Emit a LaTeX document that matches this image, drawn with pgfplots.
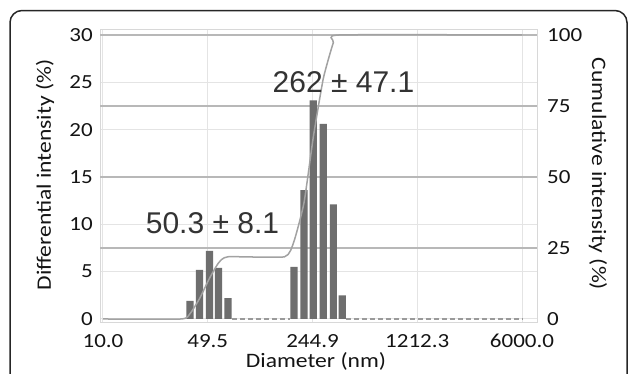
\documentclass[border=0pt]{standalone}
\usepackage{pgfplots}
\pgfplotsset{compat=1.18}
\usepackage{fontspec}
\setmainfont[FakeStretch=1.15]{Carlito}
\newfontfamily\annfont{Liberation Sans}
\definecolor{barc}{HTML}{6E6E6E}
\definecolor{cumc}{HTML}{A2A2A2}
\definecolor{dashc}{HTML}{9A9A9A}
\definecolor{gridl}{HTML}{E4E4E4}
\definecolor{gridd}{HTML}{B8B8B8}
\definecolor{boxc}{HTML}{D8D8D8}
\definecolor{txt}{HTML}{141414}
\definecolor{anc}{HTML}{333333}
\pgfdeclareverticalshading{topband}{100bp}{color(0bp)=(white); color(90bp)=(white); color(100bp)=(black!9)}
\newcommand{\lblfont}{\fontsize{20}{22}\selectfont}
\newcommand{\axfont}{\fontsize{20.5}{23}\selectfont}
\begin{document}
\begin{tikzpicture}[x=1pt,y=1pt]
\useasboundingbox (0,0) rectangle (629,-373);
\draw[line width=1.5pt, rounded corners=12pt, black!85] (10,-390) -- (10,-10.5) -- (627,-10.5) -- (627,-390);
\begin{axis}[
  at={(100pt,-322pt)}, anchor=south west,
  width=437pt, height=293pt, scale only axis,
  xmode=log, xmin=9.553, xmax=7545,
  ymin=-0.32, ymax=30.63,
  xtick={10,49.5,244.9,1212.3,6000},
  xticklabels={10.0,49.5,244.9,1212.3,6000.0},
  xminorticks=false,
  ytick={0,5,...,30},
  extra y ticks={7.5,15,22.5,30},
  extra y tick labels={},
  extra y tick style={grid=major, major grid style={gridd, line width=1.2pt}},
  xmajorgrids, ymajorgrids,
  major grid style={gridl, line width=1pt},
  major tick length=0pt,
  axis line style={boxc, line width=1pt},
  axis background/.style={shading=topband},
  tick label style={font=\lblfont, text=txt},
  yticklabel style={anchor=east, inner sep=0pt, xshift=-7pt},
  xticklabel style={anchor=north, inner sep=0pt, yshift=-12pt},
  /pgf/number format/assume math mode=true,
]
\addplot[ybar, bar width=7.2pt, fill=barc, draw=none, bar shift=0pt] coordinates {
  (37.8,1.9) (43.6,5.2) (50.8,7.2) (58.3,5.4) (67.4,2.2)
  (184.8,5.5) (215.3,13.6) (248.1,23.1) (289,20.6) (336.8,12.1) (386.4,2.5)};
\addplot[dashc, line width=1.2pt, dash pattern=on 5pt off 3pt] coordinates {(71.7,0) (174,0)};
\addplot[dashc, line width=1.2pt, dash pattern=on 5pt off 3pt] coordinates {(408,0) (6000,0)};
\end{axis}
\begin{axis}[
  at={(100pt,-322pt)}, anchor=south west,
  width=437pt, height=293pt, scale only axis,
  xmode=log, xmin=9.553, xmax=7545,
  ymin=-1.07, ymax=102.1,
  hide x axis,
  axis y line*=right,
  y axis line style={draw=none},
  ytick={0,25,50,75,100},
  major tick length=0pt,
  tick label style={font=\lblfont, text=txt},
  yticklabel style={anchor=west, inner sep=0pt, xshift=10pt},
  /pgf/number format/assume math mode=true,
]
\addplot[cumc, line width=1.5pt, smooth, tension=0.3] coordinates {
  (10,0) (33,0) (37.8,1.9) (43.6,7.1) (50.8,14.3) (58.3,19.7) (67.4,21.9)
  (160,21.9) (184.8,27.4) (215.3,41) (248.1,64.1) (289,84.7) (336.8,97.3) (370,100) (6000,100)};
\end{axis}
\node[rotate=90, font=\axfont, text=txt] at (45,-175) {Differential intensity (\%)};
\node[rotate=-90, font=\axfont, text=txt] at (598,-174) {Cumulative intensity (\%)};
\node[anchor=base, font=\axfont, text=txt, inner sep=0pt] at (316,-367.5) {Diameter (nm)};
\node[anchor=base, font=\annfont\fontsize{30}{32}\selectfont, text=anc] at (343.5,-92) {262 ± 47.1};
\node[anchor=base, font=\annfont\fontsize{30}{32}\selectfont, text=anc] at (212.5,-233) {50.3 ± 8.1};
\end{tikzpicture}
\end{document}
